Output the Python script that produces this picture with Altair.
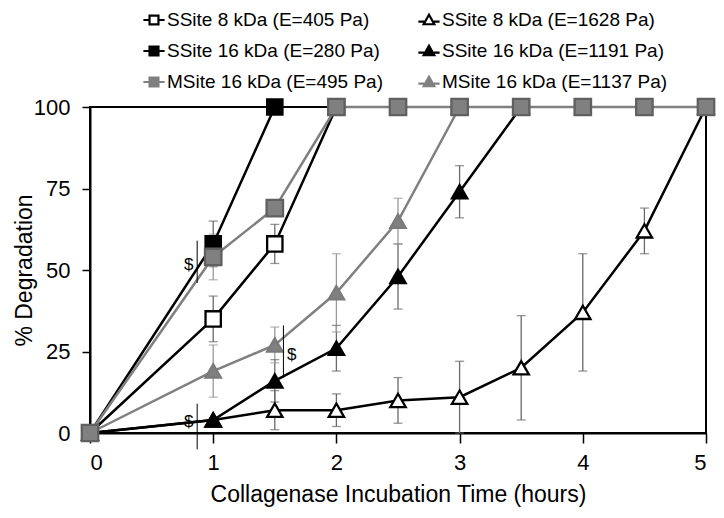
import altair as alt
import pandas as pd

# ---- data ----
series_names = [
    "SSite 8 kDa (E=405 Pa)",
    "SSite 16 kDa (E=280 Pa)",
    "MSite 16 kDa (E=495 Pa)",
    "SSite 8 kDa (E=1628 Pa)",
    "SSite 16 kDa (E=1191 Pa)",
    "MSite 16 kDa (E=1137 Pa)",
]

s8_405_t = [0, 1, 1.5, 2]
s8_405_y = [0, 35, 58, 100]
s8_405_e = [0, 7, 6, 0]

s16_280_t = [0, 1, 1.5]
s16_280_y = [0, 58, 100]
s16_280_e = [0, 7, 0]

m16_495_t = [0, 1, 1.5, 2, 2.5, 3, 3.5, 4, 4.5, 5]
m16_495_y = [0, 54, 69, 100, 100, 100, 100, 100, 100, 100]
m16_495_e = [0, 7, 0, 0, 0, 0, 0, 0, 0, 0]

s8_1628_t = [0, 1, 1.5, 2, 2.5, 3, 3.5, 4, 4.5, 5]
s8_1628_y = [0, 4, 7, 7, 10, 11, 20, 37, 62, 100]
s8_1628_e = [0, 0, 6, 5, 7, 11, 16, 18, 7, 0]

s16_1191_t = [0, 1, 1.5, 2, 2.5, 3, 3.5]
s16_1191_y = [0, 4, 16, 26, 48, 74, 100]
s16_1191_e = [0, 0, 6.5, 7, 10, 8, 0]

m16_1137_t = [0, 1, 1.5, 2, 2.5, 3]
m16_1137_y = [0, 19, 27, 43, 65, 100]
m16_1137_e = [0, 8, 5.5, 12, 7, 0]

# significance markers ("$")
sig_x = [0.87, 1.57, 0.87]
sig_lo = [46, 17, -5]
sig_hi = [59, 33, 9]
sig_left_x = [0.84, 0.84]
sig_left_y = [51.5, 3.5]
sig_right_x = [1.6]
sig_right_y = [24]

x_ticks = [0, 1, 2, 3, 4, 5]
y_ticks = [0, 25, 50, 75, 100]

# ---- build tables (drawing order: triangles first, gray squares last) ----
series_data = {
    "SSite 8 kDa (E=1628 Pa)": (s8_1628_t, s8_1628_y, s8_1628_e),
    "SSite 16 kDa (E=1191 Pa)": (s16_1191_t, s16_1191_y, s16_1191_e),
    "MSite 16 kDa (E=1137 Pa)": (m16_1137_t, m16_1137_y, m16_1137_e),
    "SSite 8 kDa (E=405 Pa)": (s8_405_t, s8_405_y, s8_405_e),
    "SSite 16 kDa (E=280 Pa)": (s16_280_t, s16_280_y, s16_280_e),
    "MSite 16 kDa (E=495 Pa)": (m16_495_t, m16_495_y, m16_495_e),
}
rows = []
for order, (name, (ts, ys, es)) in enumerate(series_data.items()):
    for t, y, e in zip(ts, ys, es):
        rows.append({"series": name, "t": t, "y": y, "err": e,
                     "lo": y - e, "hi": y + e, "ord": order})
df = pd.DataFrame(rows)
err_df = df[df["err"] > 0].copy()
err_df["ecolor"] = err_df["series"].str.startswith("MSite").map({True: "#9a9a9a", False: "#6a6a6a"})

sig_df = pd.DataFrame({"x": sig_x, "lo": sig_lo, "hi": sig_hi})
sig_l = pd.DataFrame({"x": sig_left_x, "y": sig_left_y, "label": ["$"] * len(sig_left_x)})
sig_r = pd.DataFrame({"x": sig_right_x, "y": sig_right_y, "label": ["$"] * len(sig_right_x)})

# legend-only table (no drawable positions -> filtered, only the legend remains)
leg_df = pd.DataFrame({"lab": series_names, "t": [None] * 6, "y": [None] * 6})

GRAY = "#808080"
line_range = ["black", "black", GRAY, "black", "black", GRAY]
pt_stroke_range = ["black", "black", "#606060", "black", "black", "#7a7a7a"]
fill_range = ["white", "black", GRAY, "white", "black", GRAY]
shape_range = ["square", "square", "square", "triangle-up", "triangle-up", "triangle-up"]
SQ_LINE = "M-1,0H-0.42M0.42,0H1M-0.42,-0.42H0.42V0.42H-0.42Z"
TRI_LINE = "M-1,0.15H-0.45M0.45,0.15H1M0,-0.5L0.5,0.4H-0.5Z"
legend_shape_range = [SQ_LINE, SQ_LINE, SQ_LINE, TRI_LINE, TRI_LINE, TRI_LINE]

FONT = "Liberation Sans, Arial, sans-serif"

xs = alt.Scale(domain=[0, 5], nice=False)
ys_ = alt.Scale(domain=[0, 100], nice=False)

x_enc = alt.X("t:Q", scale=xs, title="Collagenase Incubation Time (hours)",
              axis=alt.Axis(values=x_ticks, format="d"))
y_enc = alt.Y("y:Q", scale=ys_, title="% Degradation",
              axis=alt.Axis(values=y_ticks))

base = alt.Chart(df)

# error bars
err_rule = alt.Chart(err_df).mark_rule(strokeWidth=1.3).encode(
    x=alt.X("t:Q", scale=xs), y=alt.Y("lo:Q", scale=ys_), y2="hi:Q",
    color=alt.Color("ecolor:N", scale=None, legend=None))
err_cap_hi = alt.Chart(err_df).mark_tick(orient="horizontal", size=9, thickness=1.3).encode(
    x=alt.X("t:Q", scale=xs), y=alt.Y("hi:Q", scale=ys_),
    color=alt.Color("ecolor:N", scale=None, legend=None))
err_cap_lo = alt.Chart(err_df).mark_tick(orient="horizontal", size=9, thickness=1.3).encode(
    x=alt.X("t:Q", scale=xs), y=alt.Y("lo:Q", scale=ys_),
    color=alt.Color("ecolor:N", scale=None, legend=None))

lines = base.mark_line(strokeWidth=2.5).encode(
    x=x_enc, y=y_enc,
    detail="series:N",
    order="t:Q",
    stroke=alt.Stroke("series:N", scale=alt.Scale(domain=series_names, range=line_range), legend=None),
)

points = base.mark_point(filled=False, opacity=1, strokeWidth=2.3).encode(
    x=alt.X("t:Q", scale=xs),
    y=alt.Y("y:Q", scale=ys_),
    order=alt.Order("ord:Q"),
    stroke=alt.Stroke("series:N", scale=alt.Scale(domain=series_names, range=pt_stroke_range), legend=None),
    fill=alt.Fill("series:N", scale=alt.Scale(domain=series_names, range=fill_range), legend=None),
    shape=alt.Shape("series:N", scale=alt.Scale(domain=series_names, range=shape_range), legend=None),
    size=alt.condition("datum.series == 'MSite 16 kDa (E=495 Pa)'", alt.value(270), alt.value(235)),
)

leg = alt.Legend(
    title=None, orient="none", legendX=52, legendY=-99,
    columns=2, columnPadding=30, rowPadding=9,
    symbolSize=450, symbolStrokeWidth=2.2,
    labelFont=FONT, labelFontSize=19, labelColor="black",
    labelLimit=400, labelOffset=1,
)
legend_layer = alt.Chart(leg_df).mark_point(filled=False, opacity=1, strokeWidth=2.2).encode(
    x=alt.X("t:Q", scale=xs),
    y=alt.Y("y:Q", scale=ys_),
    stroke=alt.Stroke("lab:N", scale=alt.Scale(domain=series_names, range=line_range), legend=leg),
    fill=alt.Fill("lab:N", scale=alt.Scale(domain=series_names, range=fill_range), legend=leg),
    shape=alt.Shape("lab:N", scale=alt.Scale(domain=series_names, range=legend_shape_range), legend=leg),
)

sig_rules = alt.Chart(sig_df).mark_rule(color="black", strokeWidth=1).encode(
    x=alt.X("x:Q", scale=xs), y=alt.Y("lo:Q", scale=ys_), y2="hi:Q")
sig_text_l = alt.Chart(sig_l).mark_text(font=FONT, fontSize=17, color="black",
                                        baseline="middle", align="right").encode(
    x=alt.X("x:Q", scale=xs), y=alt.Y("y:Q", scale=ys_), text="label:N")
sig_text_r = alt.Chart(sig_r).mark_text(font=FONT, fontSize=17, color="black",
                                        baseline="middle", align="left").encode(
    x=alt.X("x:Q", scale=xs), y=alt.Y("y:Q", scale=ys_), text="label:N")

chart = alt.layer(
    err_rule, err_cap_hi, err_cap_lo, lines, points, sig_rules, sig_text_l, sig_text_r, legend_layer
).resolve_scale(
    stroke="independent", fill="independent", shape="independent"
).properties(
    width=616, height=326,
    padding={"left": 82, "top": 99, "right": 10, "bottom": 80},
    autosize=alt.AutoSizeParams(type="none"),
).configure_view(
    stroke="black", strokeWidth=2
).configure_axis(
    grid=False, domainColor="black", domainWidth=2, tickColor="black", tickWidth=1.5,
    labelFont=FONT, titleFont=FONT, labelFontSize=22, titleFontSize=23,
    labelColor="black", titleColor="black", titleFontWeight="normal",
).configure_axisX(
    tickSize=10, labelPadding=9, titlePadding=10
).configure_axisY(
    tickSize=8, labelPadding=12, titlePadding=-3
)

chart.save("out.html", embed_options={"renderer": "svg", "actions": False})
